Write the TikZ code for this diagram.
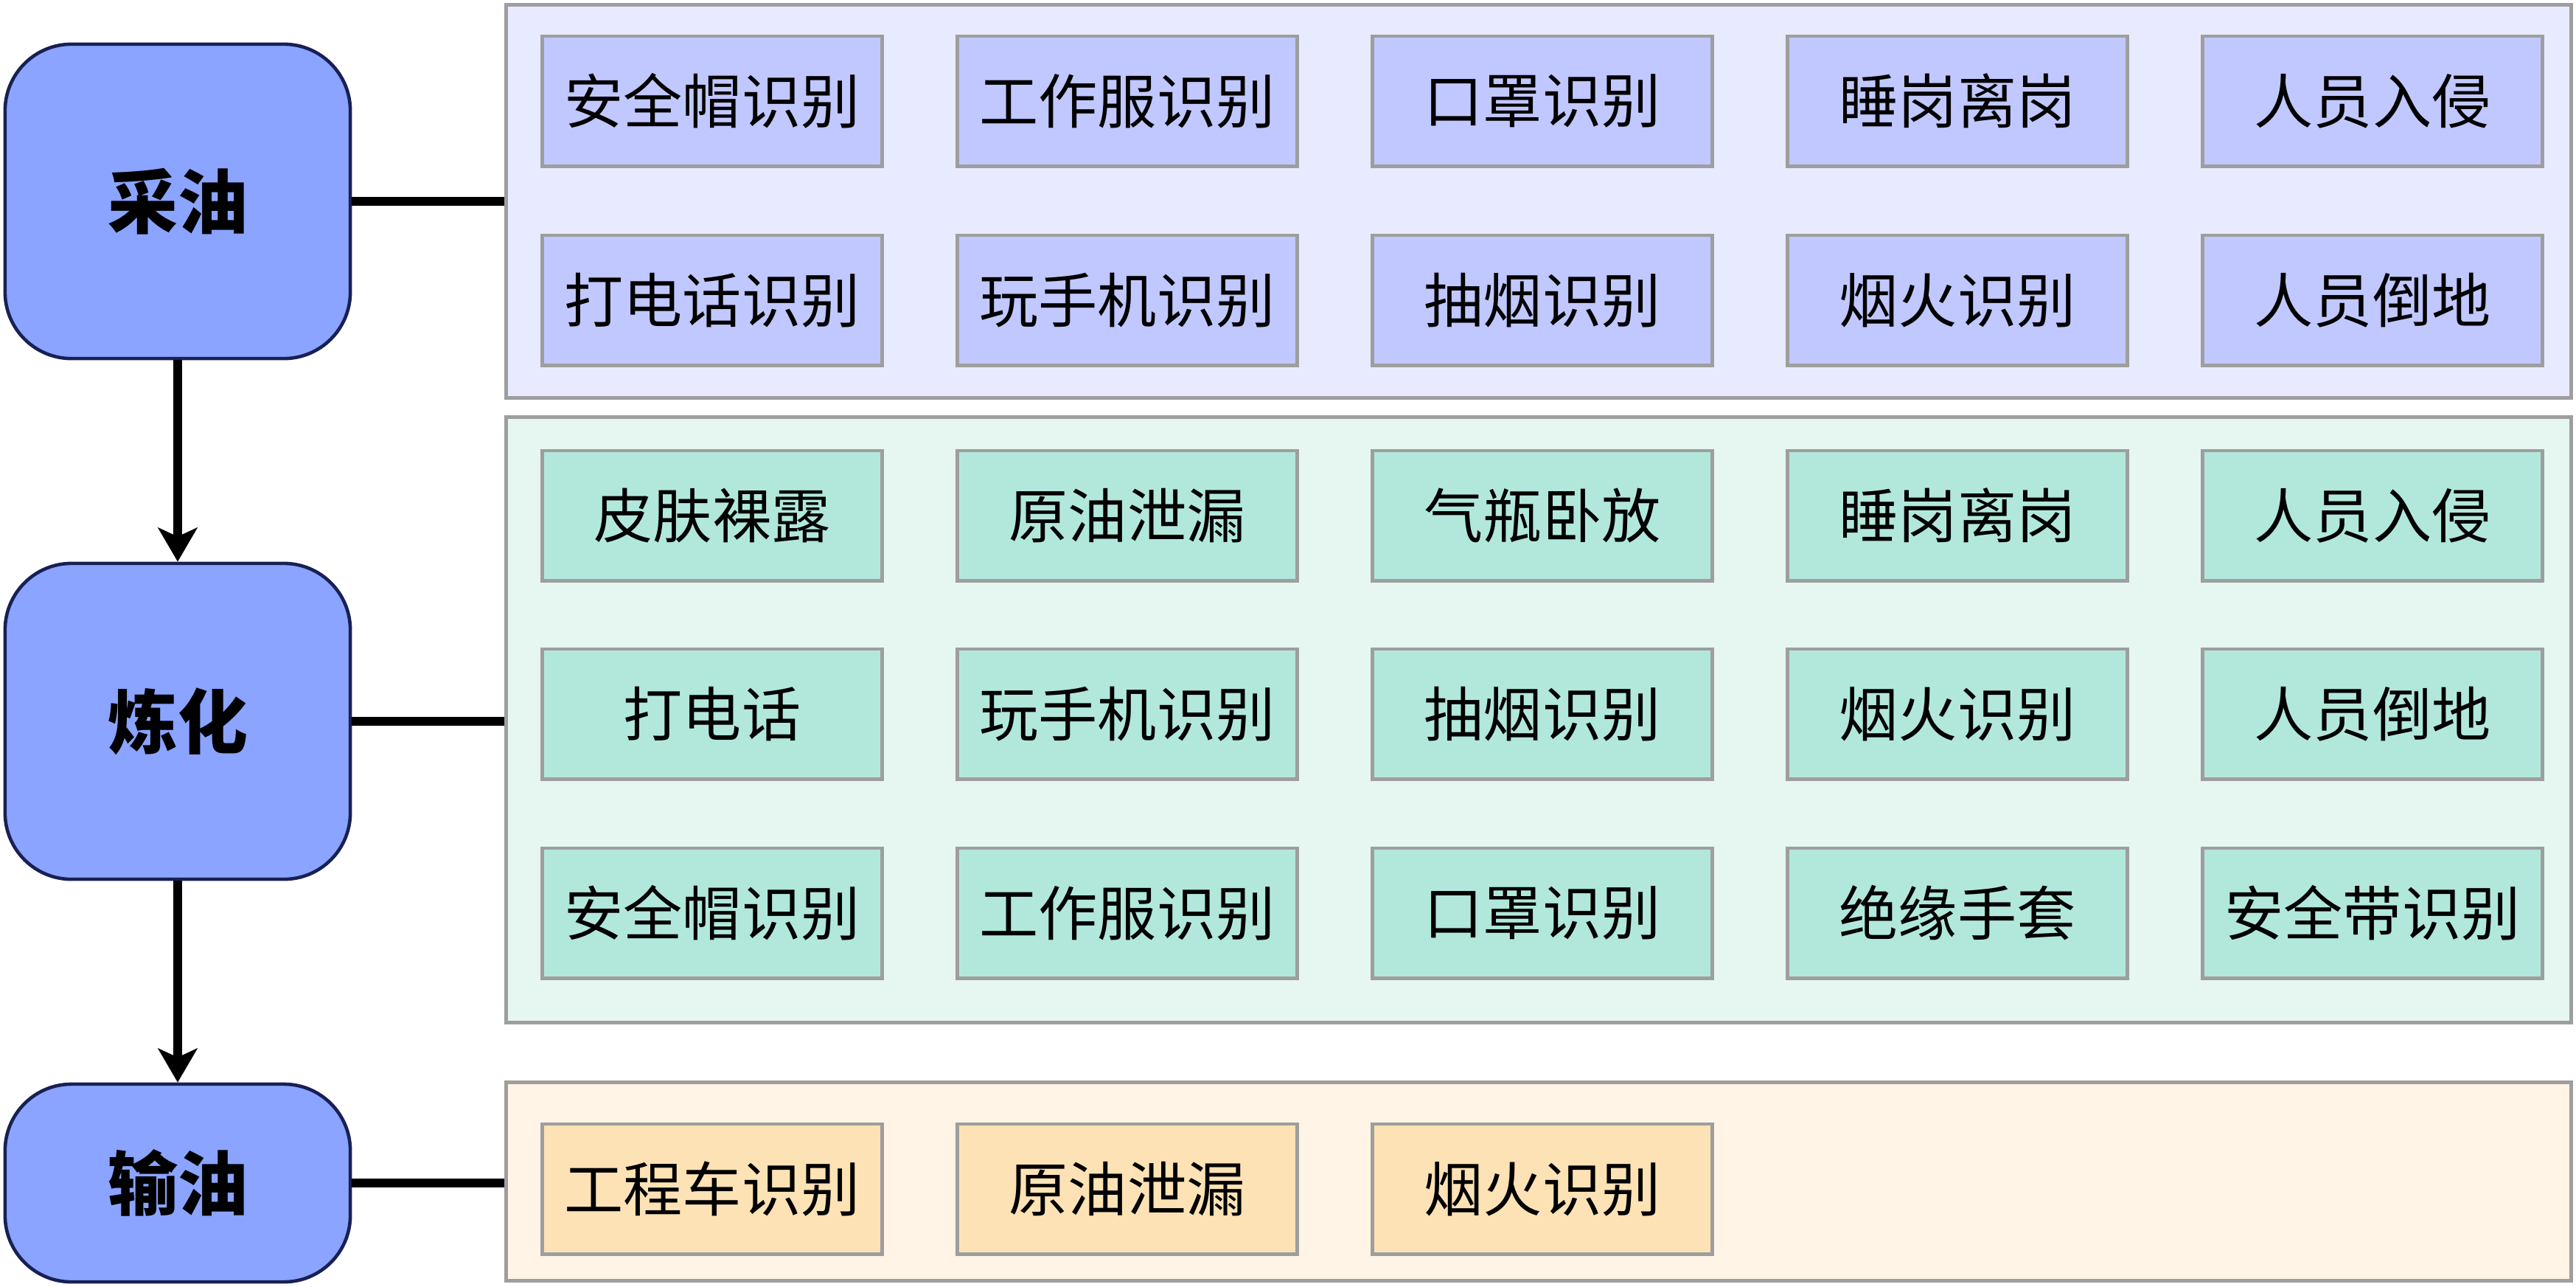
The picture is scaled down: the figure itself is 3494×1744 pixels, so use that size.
\documentclass[tikz,border=0pt]{standalone}
\usepackage{fontspec}
\setmainfont{Noto Sans CJK SC}
\usetikzlibrary{arrows.meta,positioning}
\definecolor{stagefill}{RGB}{138, 164, 255}
\definecolor{stagedraw}{RGB}{24, 32, 84}
\definecolor{panelline}{RGB}{158, 158, 158}
\definecolor{oilbg}{RGB}{232, 235, 255}
\definecolor{oilbox}{RGB}{192, 200, 255}
\definecolor{refbg}{RGB}{230, 246, 241}
\definecolor{refbox}{RGB}{178, 232, 220}
\definecolor{pipebg}{RGB}{255, 244, 230}
\definecolor{pipebox}{RGB}{253, 226, 181}

\begin{document}
\begin{tikzpicture}[
    x=0.01cm, y=-0.01cm,
    every node/.style={align=center, inner sep=0pt},
    stage/.style={rectangle, draw=stagedraw, fill=stagefill, line width=1.3pt, rounded corners=0.9cm, minimum width=4.68cm, font=\fontsize{27}{30}\selectfont\bfseries},
    panel/.style={rectangle, draw=panelline, line width=1.4pt, minimum width=27.99cm},
    item/.style={rectangle, draw=panelline, line width=1.4pt, minimum width=4.61cm, minimum height=1.76cm, font=\fontsize{22.8}{26}\selectfont},
    link/.style={line width=3.2pt, draw=black},
    flow/.style={-{Stealth[length=0.46cm, width=0.53cm, inset=0.12cm]}, line width=3.3pt}
]
    \useasboundingbox (0,0) rectangle (3494,1744);

    % stages
    \node[stage, minimum height=4.26cm] (caiyou) at (241,273) {采油};
    \node[stage, minimum height=4.28cm] (lianhua) at (241,978) {炼化};
    \node[stage, minimum height=2.68cm] (shuyou) at (241,1604) {输油};

    % panels
    \node[panel, fill=oilbg, minimum height=5.32cm] (pcai) at (2087,273) {};
    \node[panel, fill=refbg, minimum height=8.20cm] (plian) at (2087,976) {};
    \node[panel, fill=pipebg, minimum height=2.68cm] (pshu) at (2087,1602) {};

    % items
    \foreach \t [count=\i] in {安全帽识别,工作服识别,口罩识别,睡岗离岗,人员入侵}
        \node[item, fill=oilbox] (c1\i) at ({966+563*(\i-1)},137) {\t};
    \foreach \t [count=\i] in {打电话识别,玩手机识别,抽烟识别,烟火识别,人员倒地}
        \node[item, fill=oilbox] (c2\i) at ({966+563*(\i-1)},407) {\t};
    \foreach \t [count=\i] in {皮肤裸露,原油泄漏,气瓶卧放,睡岗离岗,人员入侵}
        \node[item, fill=refbox] (l1\i) at ({966+563*(\i-1)},699) {\t};
    \foreach \t [count=\i] in {打电话,玩手机识别,抽烟识别,烟火识别,人员倒地}
        \node[item, fill=refbox] (l2\i) at ({966+563*(\i-1)},968) {\t};
    \foreach \t [count=\i] in {安全帽识别,工作服识别,口罩识别,绝缘手套,安全带识别}
        \node[item, fill=refbox] (l3\i) at ({966+563*(\i-1)},1238) {\t};
    \foreach \t [count=\i] in {工程车识别,原油泄漏,烟火识别}
        \node[item, fill=pipebox] (s1\i) at ({966+563*(\i-1)},1612) {\t};

    % connectors
    \draw[link] (caiyou.east) -- (caiyou.east -| pcai.west);
    \draw[link] (lianhua.east) -- (lianhua.east -| plian.west);
    \draw[link] (shuyou.east) -- (shuyou.east -| pshu.west);

    \draw[flow] (caiyou.south) -- (lianhua.north);
    \draw[flow] (lianhua.south) -- (shuyou.north);
\end{tikzpicture}
\end{document}
